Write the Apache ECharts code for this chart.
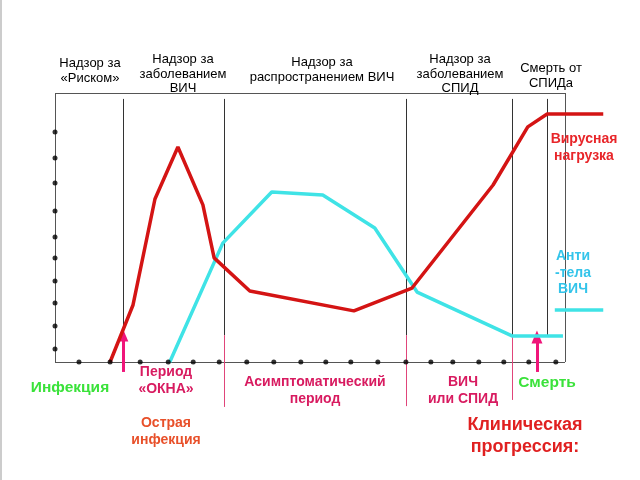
<!DOCTYPE html>
<html><head><meta charset="utf-8">
<script src="https://cdn.jsdelivr.net/npm/echarts@6/dist/echarts.min.js"></script>
<style>html,body{margin:0;padding:0;background:#fff}#c{width:640px;height:480px}</style>
</head><body><div id="c"></div>
<script>
// Data (time units: 0..100 across the framed box; level units: 0..100 up the box)
var redX = [10.8, 15.3, 19.6, 24.1, 29.0, 31.2, 38.2, 58.6, 70.0, 85.9, 92.7, 96.5, 107.5];
var redY = [0, 21.2, 60.6, 79.9, 58.4, 38.7, 26.4, 19.0, 27.5, 65.8, 87.4, 92.2, 92.2];
var cyanX = [22.5, 32.9, 42.5, 52.5, 62.7, 71.0, 89.6, 99.6];
var cyanY = [0, 44.2, 63.2, 62.1, 49.8, 26.0, 9.7, 9.7];
var cyanKeyX = [98.0, 107.5];
var cyanKeyY = [19.3, 19.3];
var leftDotsY = [85.5, 75.8, 66.5, 56.1, 46.5, 38.7, 30.1, 21.9, 13.4, 4.8];
var bottomDotsX = [4.7, 10.8, 16.7, 22.2, 27.1, 32.2, 37.6, 42.9, 48.2, 53.1, 58.0, 63.3, 68.8, 73.7, 78.0, 83.1, 88.0, 92.9, 98.2];
var phaseX = [13.3, 33.1, 68.8, 89.6, 96.5];
var pinkPhaseX = [33.1, 68.8, 89.6];
var pinkPhaseBottom = [-16.7, -16.4, -14.1];
var arrowX = [13.3, 94.5];
var arrowTipY = [10.0, 9.3];
var arrowBaseY = -3.7;
var boxMax = 100;

function pairs(xs, ys){ return xs.map(function(x,i){return [x, ys[i]];}); }

var frame = [
  [{coord:[0,0]},{coord:[boxMax,0]}],
  [{coord:[0,0]},{coord:[0,boxMax]}],
  [{coord:[0,boxMax]},{coord:[boxMax,boxMax]}],
  [{coord:[boxMax,0]},{coord:[boxMax,boxMax]}]
];
var blackLines = phaseX.map(function(x){ return [{coord:[x,97.8]},{coord:[x,10.0]}]; });
var pinkLines = pinkPhaseX.map(function(x,i){ return [{coord:[x,10.0]},{coord:[x,pinkPhaseBottom[i]]}]; });
var arrows = arrowX.map(function(x,i){ return [{coord:[x,arrowBaseY]},{coord:[x,arrowTipY[i]]}]; });

var F = 'Liberation Sans, Arial, sans-serif';
function txt(text, x, y, size, color, bold, lh){
  return {type:'text', z:50, style:{text:text, x:x, y:y, textAlign:'center', textVerticalAlign:'middle',
    font:(bold?'bold ':'')+size+'px '+F, fill:color, lineHeight:lh||Math.round(size*1.25)}};
}

var chart = echarts.init(document.getElementById('c'), null, {renderer:'canvas'});
chart.setOption({
  animation:false,
  backgroundColor:'#fff',
  grid:{left:55, top:93, width:561, height:322.8, show:false},
  xAxis:{type:'value', min:0, max:110, show:false},
  yAxis:{type:'value', min:-20, max:100, show:false},
  series:[
    {type:'line', data:[], silent:true, markLine:{silent:true, symbol:'none', label:{show:false},
      lineStyle:{color:'#555', width:1, type:'solid'}, data:frame}},
    {type:'line', data:[], silent:true, markLine:{silent:true, symbol:'none', label:{show:false},
      lineStyle:{color:'#333', width:1, type:'solid'}, data:blackLines}},
    {type:'line', data:[], silent:true, markLine:{silent:true, symbol:'none', label:{show:false},
      lineStyle:{color:'#e0457a', width:1, type:'solid'}, data:pinkLines}},
    {type:'line', data:pairs(cyanX,cyanY), symbol:'none', z:5,
      lineStyle:{color:'#3fe3e6', width:3.5}},
    {type:'line', data:pairs(cyanKeyX,cyanKeyY), symbol:'none', z:5,
      lineStyle:{color:'#3fe3e6', width:3.5}},
    {type:'line', data:pairs(redX,redY), symbol:'none', z:6,
      lineStyle:{color:'#d41414', width:3.5}},
    {type:'scatter', data:leftDotsY.map(function(y){return [0,y];}), symbolSize:5, z:8,
      itemStyle:{color:'#000'}},
    {type:'scatter', data:bottomDotsX.map(function(x){return [x,0];}), symbolSize:5, z:8,
      itemStyle:{color:'#000'}},
    {type:'line', data:[], silent:true, z:9, markLine:{silent:true, symbol:['none','triangle'], symbolSize:[11,13], label:{show:false},
      lineStyle:{color:'#f0157a', width:3, type:'solid'}, data:arrows}}
  ],
  graphic:[
    {type:'line', shape:{x1:1, y1:0, x2:1, y2:480}, style:{stroke:'#ccc', lineWidth:2}},
    txt('Надзор за\n«Риском»', 90, 71, 13, '#000', false, 15),
    txt('Надзор за\nзаболеванием\nВИЧ', 183, 74, 13, '#000', false, 14.5),
    txt('Надзор за\nраспространением ВИЧ', 322, 70, 13, '#000', false, 14.5),
    txt('Надзор за\nзаболеванием\nСПИД', 460, 74, 13, '#000', false, 14.5),
    txt('Смерть от\nСПИДа', 551, 76, 13, '#000', false, 15),
    txt('Вирусная\nнагрузка', 584, 148, 14, '#e8262a', true, 17),
    txt('Анти\n-тела\nВИЧ', 573, 273, 14, '#33c4ea', true, 16.5),
    txt('Инфекция', 70, 388, 15.5, '#3ae23a', true, 18),
    txt('Период\n«ОКНА»', 166, 381, 14, '#d81b60', true, 17),
    txt('Острая\nинфекция', 166, 432, 14, '#e8502a', true, 17),
    txt('Асимптоматический\nпериод', 315, 391, 14, '#d81b60', true, 17),
    txt('ВИЧ\nили СПИД', 463, 391, 14, '#d81b60', true, 17),
    txt('Смерть', 547, 383, 15.5, '#3ae23a', true, 18),
    txt('Клиническая\nпрогрессия:', 525, 436, 18, '#e02020', true, 22)
  ]
});
</script></body></html>
